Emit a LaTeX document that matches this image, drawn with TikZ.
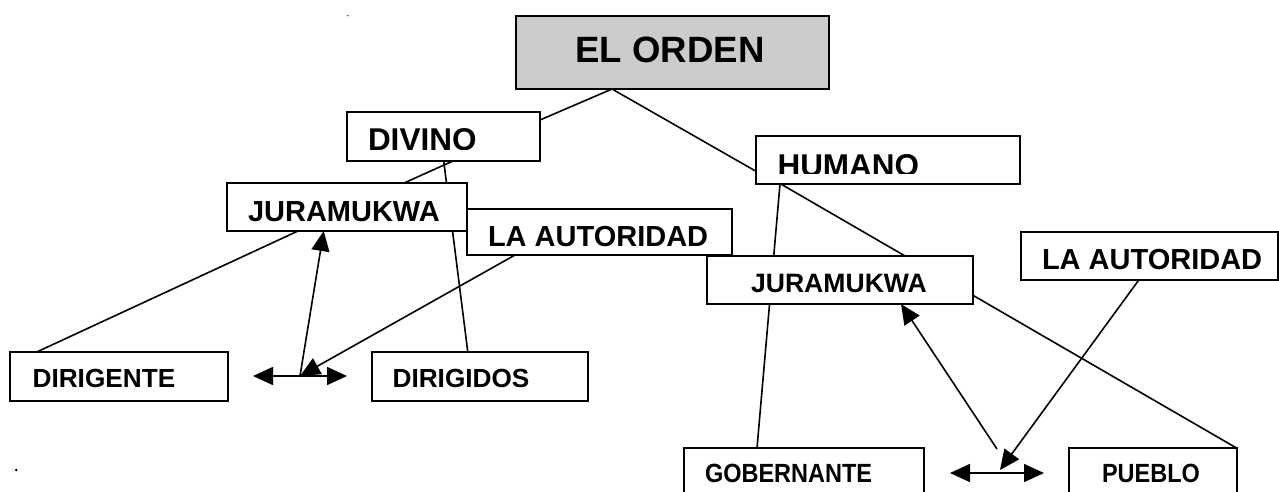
\documentclass[tikz,border=0pt]{standalone}
\usepackage{fontspec}
\setmainfont{Liberation Sans}
\usetikzlibrary{arrows.meta,calc}
\pgfdeclarelayer{bg}
\pgfsetlayers{bg,main}
\definecolor{ordgray}{RGB}{204,204,204}
\begin{document}
\begin{tikzpicture}[x=1pt,y=-1pt,
  box/.style={draw, line width=2pt, fill=white, rectangle, inner sep=0pt, outer sep=0pt, anchor=north west},
  lbl/.style={inner sep=0pt, outer sep=0pt, anchor=base west},
  conn/.style={line width=1.6pt},
  arr/.style={conn, -{Triangle[length=20pt,width=18pt]}},
  darr/.style={conn, {Triangle[length=20pt,width=18pt]}-{Triangle[length=20pt,width=18pt]}}]
\useasboundingbox (0,0) rectangle (1279,491);

% boxes
\node[box, fill=ordgray, minimum width=313pt, minimum height=73pt] (ord) at (516,16) {};
\node[box, minimum width=193pt, minimum height=49pt] (div) at (347,112) {};
\node[box, minimum width=264pt, minimum height=48pt] (hum) at (755.5,136) {};
\node[box, minimum width=240pt, minimum height=48pt] (jl) at (227,183) {};
\node[box, minimum width=265pt, minimum height=46pt] (al) at (467,209) {};
\node[box, minimum width=266pt, minimum height=48pt] (jr) at (707,256) {};
\node[box, minimum width=257pt, minimum height=48pt] (ar) at (1020.5,232) {};
\node[box, minimum width=218pt, minimum height=49pt] (dte) at (10,352) {};
\node[box, minimum width=216.5pt, minimum height=49pt] (dos) at (371.5,352) {};
\node[box, minimum width=240pt, minimum height=70pt] (gob) at (684,448) {};
\node[box, minimum width=168pt, minimum height=70pt] (pue) at (1068.5,448) {};

% labels
\node[lbl, font=\fontsize{36.6}{40}\selectfont\bfseries] (tord) at (575.5,62) {EL ORDEN};
\begin{scope}
  \clip (347,112) rectangle (540,149.5);
  \node[lbl, font=\fontsize{31.5}{34}\selectfont\bfseries] (tdiv) at (368,150.5) {DIVINO};
\end{scope}
\begin{scope}
  \clip (755.5,136) rectangle (1020,173.5);
  \node[lbl, font=\fontsize{31.5}{34}\selectfont\bfseries] (thum) at (777.5,176.5) {HUMANO};
\end{scope}
\node[lbl, font=\fontsize{29}{32}\selectfont\bfseries] (tjl) at (248,221) {JURAMUKWA};
\node[lbl, font=\fontsize{29}{32}\selectfont\bfseries] (tal) at (488,246) {LA AUTORIDAD};
\node[lbl, font=\fontsize{26.6}{30}\selectfont\bfseries] (tjr) at (751,292) {JURAMUKWA};
\node[lbl, font=\fontsize{29}{32}\selectfont\bfseries] (tar) at (1042,269) {LA AUTORIDAD};
\node[lbl, font=\fontsize{26.2}{30}\selectfont\bfseries] (tdte) at (32.6,387.5) {DIRIGENTE};
\node[lbl, font=\fontsize{26.2}{30}\selectfont\bfseries] (tdos) at (392.6,387.5) {DIRIGIDOS};
\node[lbl, font=\fontsize{23.5}{27}\selectfont\bfseries] (tgob) at (705,482) {\scalebox{1}[1.12]{GOBERNANTE}};
\node[lbl, font=\fontsize{23.5}{27}\selectfont\bfseries] (tpue) at (1102,482) {\scalebox{1}[1.12]{PUEBLO}};

% junction points
\coordinate (jxl) at ($(dte.east)+(72,-0.5)$);
\coordinate (jxr) at ($(gob.north east)+(76,22)$);

\begin{pgfonlayer}{bg}
  \draw[conn] ($(ord.south west)+(96,0)$) -- ($(div.north east)+(0,8)$);
  \draw[conn] ($(ord.south west)+(96,0)$) -- ($(hum.north west)+(0,35)$);
  \draw[conn] ($(div.south west)+(106,0)$) -- ($(jl.north west)+(177,0)$);
  \draw[conn] ($(div.south west)+(96.7,0)$) -- ($(dos.north west)+(96.3,0)$);
  \draw[conn] ($(jl.south west)+(71,0)$) -- ($(dte.north west)+(26.7,0)$);
  \draw[darr] ($(dte.east)+(25,-0.5)$) -- ($(dos.west)+(-24.5,-0.5)$);
  \draw[arr] (jxl) -- ($(jl.south west)+(96.7,0)$);
  \draw[arr] ($(al.south west)+(48,0)$) -- (jxl);
  \draw[conn] ($(hum.south west)+(24.5,0)$) -- ($(gob.north west)+(73,0)$);
  \draw[conn] ($(hum.south west)+(25.3,0)$) -- (pue.north east);
  \draw[darr] ($(gob.north east)+(26,25)$) -- ($(pue.north west)+(-24.5,25)$);
  \draw[arr] ($(gob.north east)+(73,1)$) -- ($(jr.south west)+(194,0)$);
  \draw[arr] ($(ar.south west)+(118.3,0)$) -- (jxr);
\end{pgfonlayer}

% stray dots
\fill (347.8,15.7) circle (0.7);
\fill (16.3,470) circle (1.4);
\end{tikzpicture}
\end{document}
